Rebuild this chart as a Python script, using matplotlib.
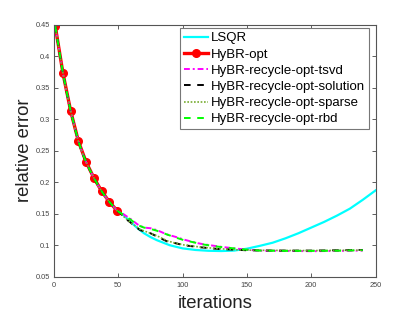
import numpy as np
import matplotlib
matplotlib.use('Agg')
import matplotlib.pyplot as plt
from matplotlib.ticker import FormatStrFormatter

plt.rcParams['font.family'] = ['Liberation Sans', 'DejaVu Sans']

# gemeinsamer Anfang aller Kurven (Iterationen 1..49)
early_it = [1, 4, 7, 10, 13, 16, 19, 22, 25, 28, 31, 34, 37, 40, 43, 46, 49]
early_err = [0.448, 0.410, 0.373, 0.342, 0.313, 0.288, 0.265, 0.247, 0.232,
             0.219, 0.207, 0.196, 0.186, 0.177, 0.169, 0.162, 0.155]

# HyBR-opt (nur die Punkte mit Markern)
hybr_it = [1, 7, 13, 19, 25, 31, 37, 43, 49]
hybr_err = [0.448, 0.373, 0.313, 0.265, 0.232, 0.207, 0.186, 0.169, 0.155]

# LSQR nach Iteration 50
lsqr_it = [52, 55, 60, 65, 70, 75, 80, 90, 100, 110, 120, 130, 140, 150, 160,
           170, 180, 190, 200, 210, 220, 230, 240, 250]
lsqr_err = [0.151, 0.146, 0.136, 0.127, 0.119, 0.113, 0.108, 0.100, 0.095,
            0.0925, 0.0912, 0.0908, 0.0915, 0.0945, 0.099, 0.104, 0.111, 0.119,
            0.128, 0.137, 0.147, 0.158, 0.172, 0.187]

# recycle-Varianten nach Iteration 50
tsvd_it = [52, 55, 60, 65, 70, 75, 80, 88, 95, 101, 110, 115, 128, 140, 150,
           160, 180, 200, 220, 240]
tsvd_err = [0.152, 0.148, 0.141, 0.133, 0.128, 0.127, 0.124, 0.117, 0.113,
            0.109, 0.104, 0.102, 0.098, 0.095, 0.093, 0.0915, 0.091, 0.0905,
            0.091, 0.0915]
rbd_it = tsvd_it
rbd_err = [0.151, 0.147, 0.140, 0.132, 0.128, 0.126, 0.123, 0.117, 0.112,
           0.108, 0.104, 0.1015, 0.0976, 0.095, 0.093, 0.0915, 0.091, 0.091,
           0.0912, 0.092]

sol_it = [52, 55, 59, 63, 67, 75, 80, 88, 95, 101, 114, 128, 140, 150, 170,
          200, 220, 240]
sol_err = [0.150, 0.143, 0.137, 0.130, 0.124, 0.119, 0.114, 0.106, 0.103,
           0.100, 0.0967, 0.094, 0.093, 0.092, 0.0915, 0.0915, 0.092, 0.0925]
sparse_err = [0.150, 0.144, 0.137, 0.131, 0.125, 0.119, 0.115, 0.107, 0.103,
              0.1005, 0.097, 0.0945, 0.093, 0.0922, 0.0918, 0.0915, 0.0918, 0.0922]

fig = plt.figure(figsize=(4.15, 3.12), dpi=100)
ax = fig.add_axes([0.130, 0.113, 0.775, 0.808])

ax.plot(early_it + lsqr_it, early_err + lsqr_err, color='#00FFFF', lw=1.6,
        label='LSQR')
ax.plot(hybr_it, hybr_err, color='#FF0000', lw=2.4, marker='o', ms=5.5,
        label='HyBR-opt')
ax.plot(early_it + tsvd_it, early_err + tsvd_err, color='#FF00FF', lw=1.4,
        ls=(0, (3, 1.5, 1, 1.5)), label='HyBR-recycle-opt-tsvd')
ax.plot(early_it + sol_it, early_err + sol_err, color='black', lw=1.4,
        ls=(0, (3.4, 3.4)), label='HyBR-recycle-opt-solution')
ax.plot(early_it + sol_it, early_err + sparse_err, color='#77AC30', lw=1.2,
        ls=(0, (1, 1)), label='HyBR-recycle-opt-sparse')
ax.plot(early_it + rbd_it, early_err + rbd_err, color='#00FF00', lw=1.4,
        ls=(0, (3.4, 3.4)), label='HyBR-recycle-opt-rbd')

ax.set_xlim(0, 250)
ax.set_ylim(0.05, 0.45)
ax.set_xticks(np.arange(0, 251, 50))
ax.set_yticks(np.arange(0.05, 0.451, 0.05))
ax.yaxis.set_major_formatter(FormatStrFormatter('%g'))
ax.tick_params(direction='in', top=True, right=True, labelsize=5.3,
               colors='#444444', length=3, width=0.6)
ax.tick_params(axis='x', pad=4)
ax.tick_params(axis='y', pad=2.5)
for s in ax.spines.values():
    s.set_color('#555555')
    s.set_linewidth(0.8)

ax.set_xlabel('iterations', fontsize=13.3, color='#222222')
ax.set_ylabel('relative error', fontsize=13.3, color='#222222')
ax.xaxis.set_label_coords(0.5, -0.072)
ax.yaxis.set_label_coords(-0.064, 0.5)

leg = ax.legend(loc='upper right', bbox_to_anchor=(0.979, 0.986),
                fontsize=9.5, handlelength=1.85, handletextpad=0.2,
                labelspacing=0.3, borderpad=0.3, borderaxespad=0,
                fancybox=False, framealpha=1)
leg.get_frame().set_edgecolor('#777777')
leg.get_frame().set_linewidth(0.8)

fig.savefig('out.png', dpi=100)
